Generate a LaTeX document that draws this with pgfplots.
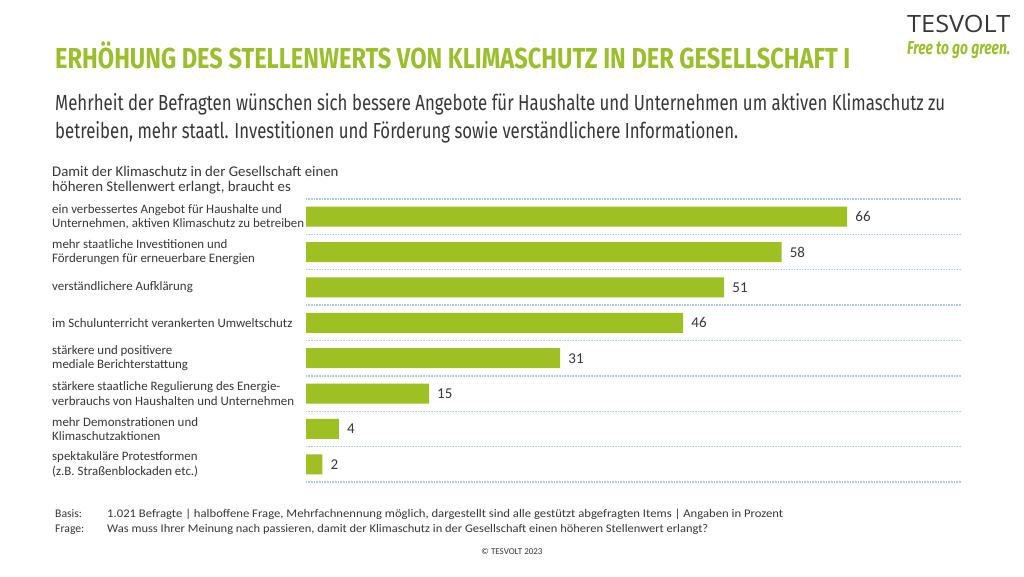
\documentclass[border=0pt]{standalone}
\usepackage{pgfplots}
\pgfplotsset{compat=1.18}
\usepackage{fontspec}
\setmainfont{Carlito}
\newfontfamily\headfont{Fira Sans}
\newfontfamily\logofont{Open Sans}
\definecolor{tgreen}{RGB}{157,192,35}
\definecolor{ttitle}{RGB}{155,190,45}
\definecolor{tgray}{RGB}{55,55,55}
\definecolor{tgrid}{RGB}{172,204,216}
\begin{document}
\begin{tikzpicture}[x=1pt,y=1pt]
\useasboundingbox (0,0) rectangle (1024,576);
\fill[white] (0,0) rectangle (1024,576);
% logo
\node[anchor=base west,inner sep=0,text=tgray] at (907,543) {\resizebox{103pt}{17pt}{\logofont\smash{TESVOLT}\vphantom{E}}};
\node[anchor=base west,inner sep=0,text=ttitle] at (907,521) {\resizebox{103pt}{13pt}{\headfont\bfseries\itshape\smash{Free to go green.}\vphantom{E}}};
% title
\node[anchor=base west,inner sep=0,text=ttitle] at (55,507) {\resizebox{795pt}{20pt}{\headfont\bfseries\smash{ERHÖHUNG DES STELLENWERTS VON KLIMASCHUTZ IN DER GESELLSCHAFT I}\vphantom{E}}};
% subtitle
\node[anchor=base west,inner sep=0,text=tgray] at (55,465) {\resizebox{890pt}{15pt}{\headfont\smash{Mehrheit der Befragten wünschen sich bessere Angebote für Haushalte und Unternehmen um aktiven Klimaschutz zu}\vphantom{E}}};
\node[anchor=base west,inner sep=0,text=tgray] at (55,437) {\resizebox{683pt}{15pt}{\headfont\smash{betreiben, mehr staatl. Investitionen und Förderung sowie verständlichere Informationen.}\vphantom{E}}};
% header
\node[anchor=base west,inner sep=0,text=tgray,font=\fontsize{14.8}{16}\selectfont] at (52,399) {Damit der Klimaschutz in der Gesellschaft einen};
\node[anchor=base west,inner sep=0,text=tgray,font=\fontsize{14.8}{16}\selectfont] at (52,384) {höheren Stellenwert erlangt, braucht es};
% footer
\node[anchor=base west,inner sep=0,text=tgray] at (55,59) {\resizebox{!}{7.5pt}{\smash{Basis:}\vphantom{E}}};
\node[anchor=base west,inner sep=0,text=tgray] at (107,59) {\resizebox{676pt}{7.5pt}{\smash{1.021 Befragte | halboffene Frage, Mehrfachnennung möglich, dargestellt sind alle gestützt abgefragten Items | Angaben in Prozent}\vphantom{E}}};
\node[anchor=base west,inner sep=0,text=tgray] at (55,44) {\resizebox{!}{7.5pt}{\smash{Frage:}\vphantom{E}}};
\node[anchor=base west,inner sep=0,text=tgray] at (107,44) {\resizebox{601pt}{7.5pt}{\smash{Was muss Ihrer Meinung nach passieren, damit der Klimaschutz in der Gesellschaft einen höheren Stellenwert erlangt?}\vphantom{E}}};
\node[anchor=base,inner sep=0,text=tgray,font=\fontsize{9}{10}\selectfont] at (512,22) {© TESVOLT 2023};
\begin{axis}[
  at={(306pt,377pt)}, anchor=north west,
  scale only axis, width=656pt, height=283pt,
  xmin=0, xmax=80, ymin=-0.5, ymax=7.5,
  y dir=reverse,
  xbar, bar width=20pt, bar shift=0pt,
  ytick={0,...,7},
  yticklabels={
    {ein verbessertes Angebot für Haushalte und\\Unternehmen, aktiven Klimaschutz zu betreiben},
    {mehr staatliche Investitionen und\\Förderungen für erneuerbare Energien},
    {verständlichere Aufklärung},
    {im Schulunterricht verankerten Umweltschutz},
    {stärkere und positivere\\mediale Berichterstattung},
    {stärkere staatliche Regulierung des Energie-\\verbrauchs von Haushalten und Unternehmen},
    {mehr Demonstrationen und\\Klimaschutzaktionen},
    {spektakuläre Protestformen\\(z.B. Straßenblockaden etc.)}},
  yticklabel style={anchor=west, align=left, xshift=-254pt, inner sep=0pt,
    font=\fontsize{12.9}{14.5}\selectfont, text=tgray},
  xtick=\empty,
  major tick length=0pt, minor tick length=0pt,
  minor ytick={-0.5,0.5,...,7.5},
  yminorgrids,
  minor grid style={tgrid, line width=1.3pt, dash pattern=on 1pt off 0.6pt},
  axis line style={draw=none},
  /pgf/number format/assume math mode=true,
  nodes near coords,
  point meta=x,
  nodes near coords style={anchor=west, inner sep=0pt, xshift=8pt,
    font=\fontsize{15}{17}\selectfont, text=tgray},
]
\addplot[fill=tgreen, draw=none] coordinates {(66,0) (58,1) (51,2) (46,3) (31,4) (15,5) (4,6) (2,7)};
\end{axis}
\end{tikzpicture}
\end{document}
